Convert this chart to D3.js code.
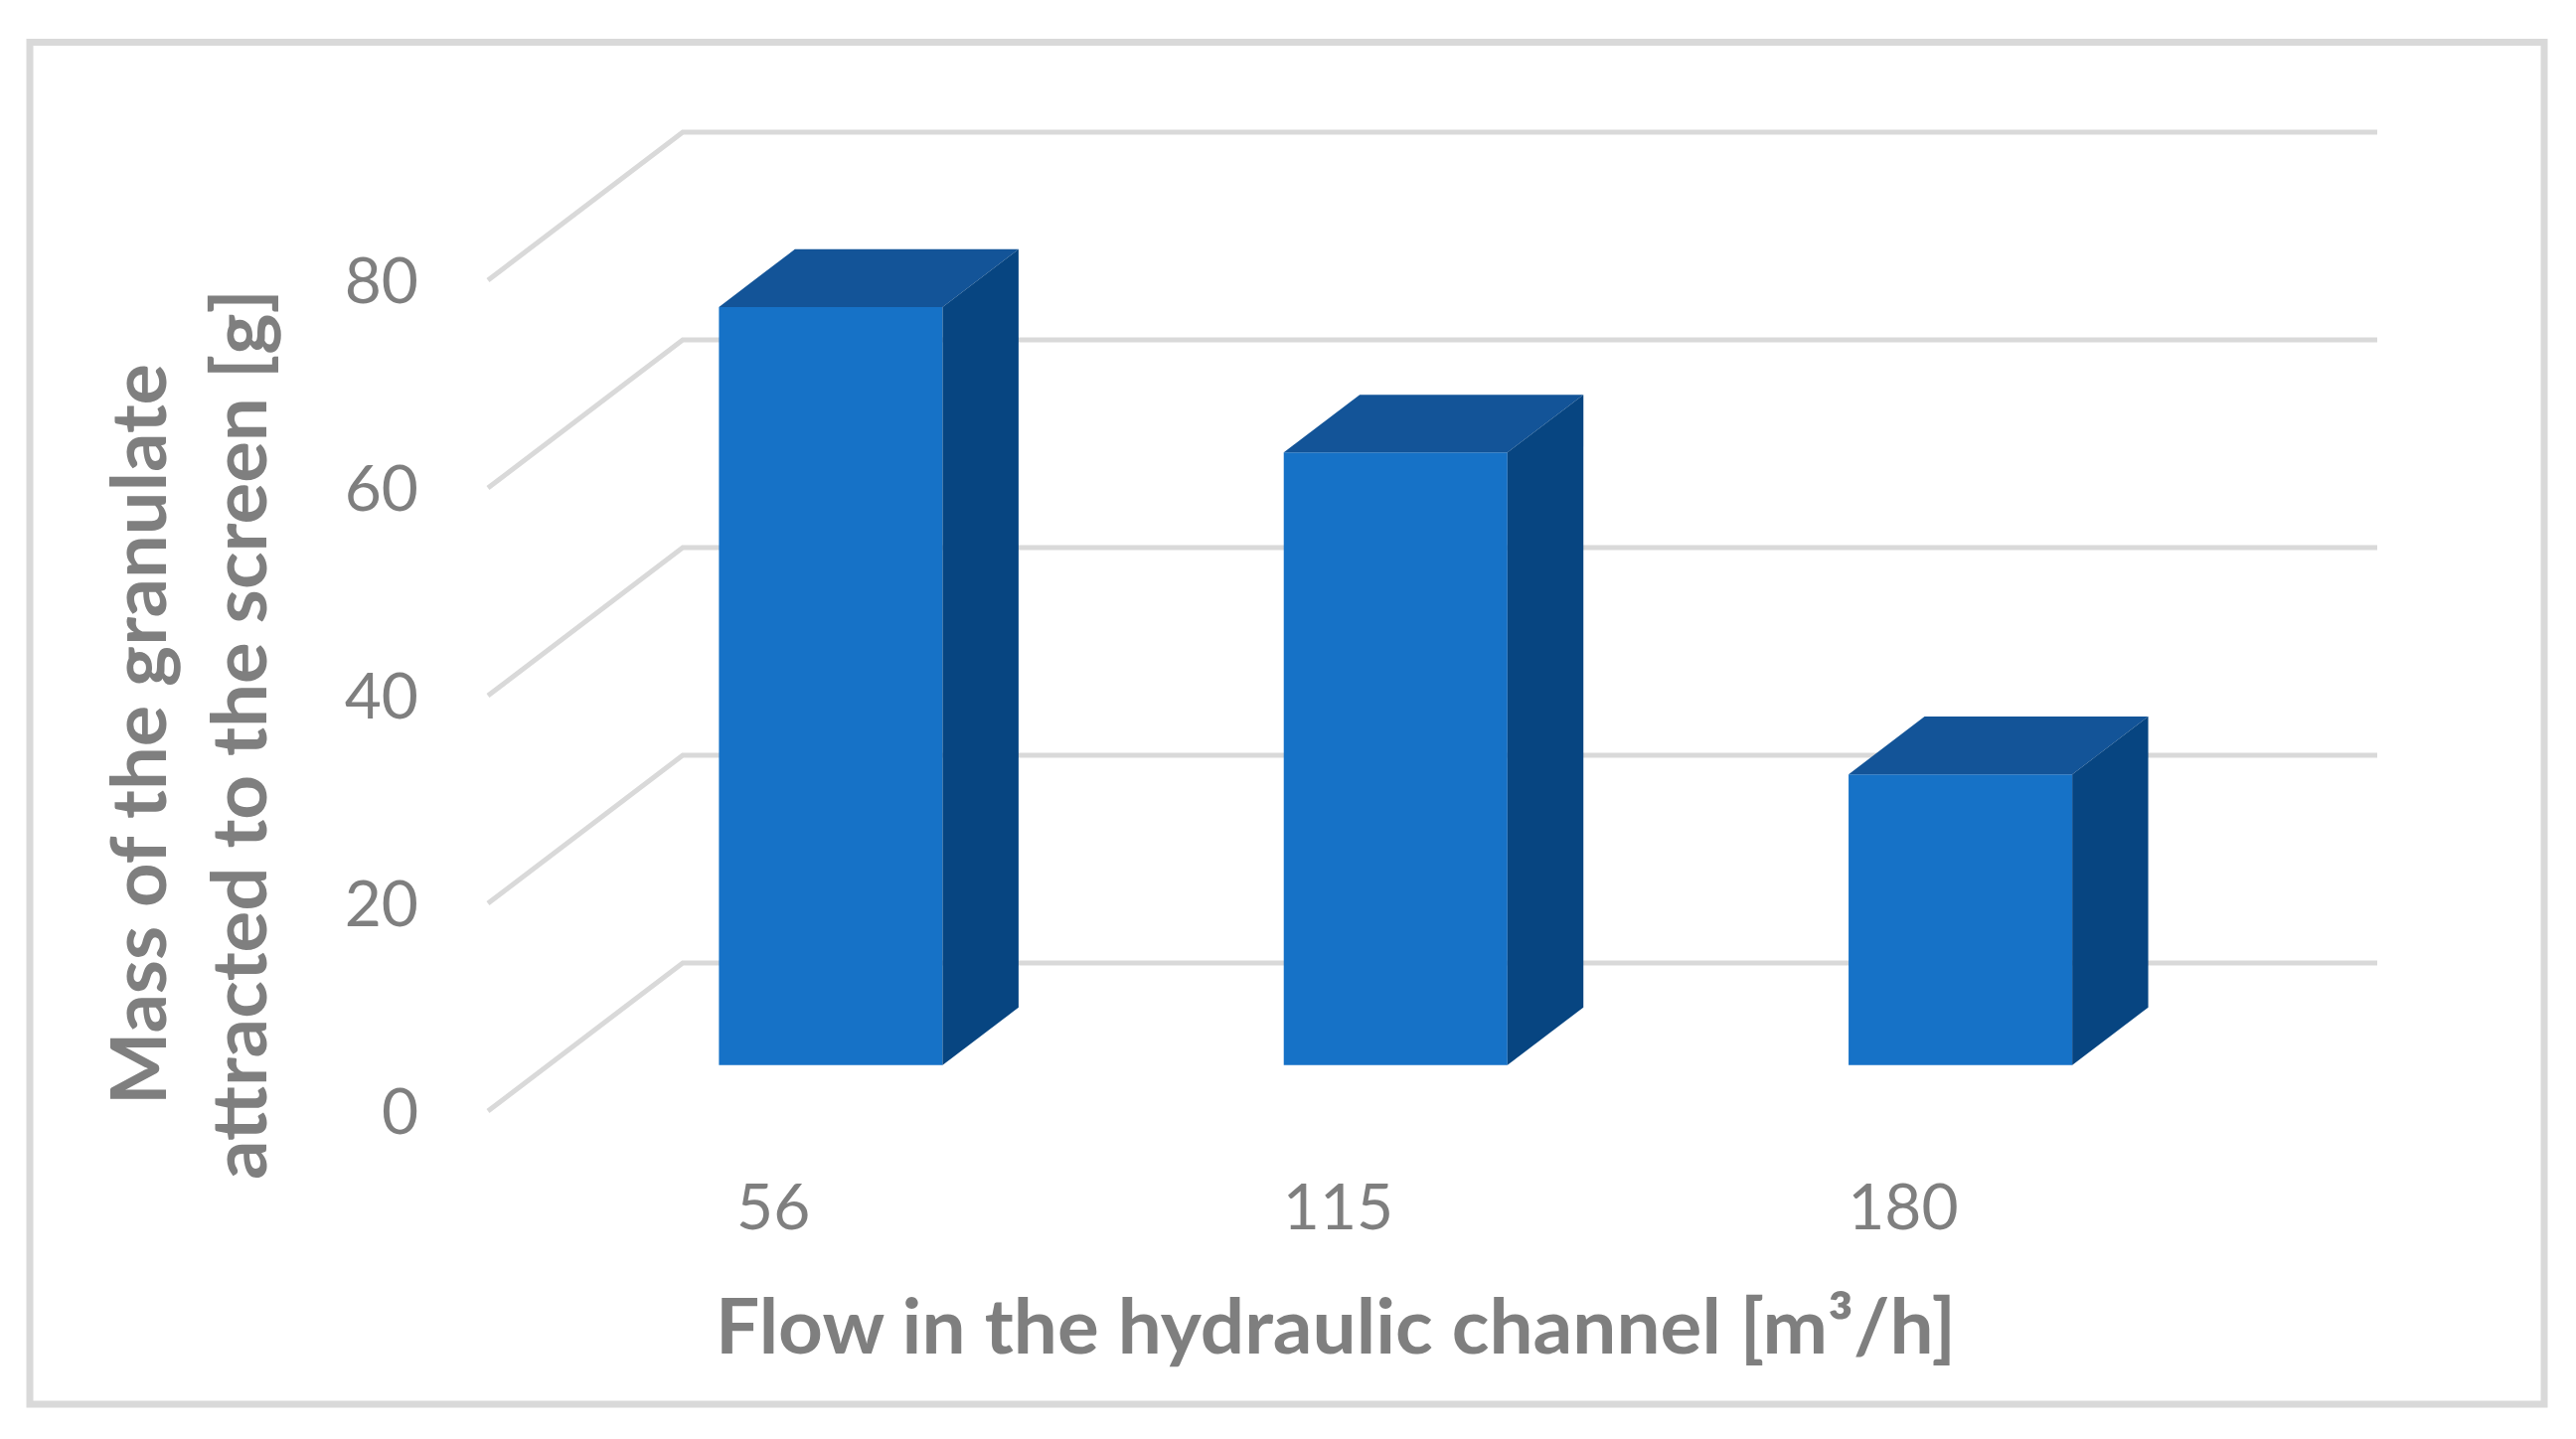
<!DOCTYPE html>
<html>
<head>
<meta charset="utf-8">
<script src="https://cdn.jsdelivr.net/npm/d3@7"></script>
<style>
  body { margin: 0; background: #fff; }
  text { font-family: Lato, "Noto Sans", sans-serif; fill: #7f7f7f; }
</style>
</head>
<body>
<div id="chart"></div>
<script>
// values
const categories = ["56", "115", "180"];
const values = [73, 59, 28];
const yTicks = [0, 20, 40, 60, 80];
const xTitle = "Flow in the hydraulic channel [m³/h]";
const yTitle = ["Mass of the granulate", "attracted to the screen [g]"];

const pageWidth = 2592;
const pageHeight = 1448;

// oblique 3D look: shift of the back wall
const depthX = 196;
const depthY = 149;
const barZ0 = 0.31, barZ1 = 0.70;
const barRatio = 0.396;

const svg = d3.select("#chart")
    .append("svg")
    .attr("width", pageWidth)
    .attr("height", pageHeight);

svg.append("rect")
    .attr("x", 0).attr("y", 0)
    .attr("width", pageWidth).attr("height", pageHeight)
    .attr("fill", "#fff");

// outer frame
svg.append("rect")
    .attr("x", 30).attr("y", 42.5)
    .attr("width", 2530).attr("height", 1370.5)
    .attr("fill", "none")
    .attr("stroke", "#d9d9d9")
    .attr("stroke-width", 7);

const xBand = d3.scaleBand()
    .domain(categories)
    .range([491, 2392 - depthX])
    .padding(0);

const yScale = d3.scaleLinear()
    .domain([0, 80])
    .range([1118, 282]);

// project a point at depth z (0 = front, 1 = back wall)
const px = (x, z) => x + z * depthX;
const py = (y, z) => y - z * depthY;

// gridlines: side wall diagonal + back wall line
const grid = svg.append("g").attr("class", "grid")
    .attr("stroke", "#d9d9d9")
    .attr("stroke-width", 5)
    .attr("fill", "none");

grid.selectAll("path")
    .data(yTicks)
    .enter().append("path")
    .attr("d", d => {
        const x0 = xBand.range()[0];
        const x1 = xBand.range()[1];
        const y0 = yScale(d);
        return "M" + px(x0, 0) + "," + py(y0, 0)
            + "L" + px(x0, 1) + "," + py(y0, 1)
            + "L" + px(x1, 1) + "," + py(y0, 1);
    });

// bars
const data = categories.map((c, i) => ({ cat: c, value: values[i] }));
const bars = svg.append("g").attr("class", "bars")
    .selectAll("g")
    .data(data)
    .enter().append("g");

function barGeom(d) {
    const w = xBand.bandwidth() * barRatio;
    const cx = xBand(d.cat) + xBand.bandwidth() / 2;
    return {
        l: cx - w / 2, r: cx + w / 2,
        b: yScale(0), t: yScale(d.value)
    };
}

// front face
bars.append("path")
    .attr("fill", "#1672c7")
    .attr("d", d => {
        const g = barGeom(d);
        return "M" + px(g.l, barZ0) + "," + py(g.b, barZ0)
            + "L" + px(g.l, barZ0) + "," + py(g.t, barZ0)
            + "L" + px(g.r, barZ0) + "," + py(g.t, barZ0)
            + "L" + px(g.r, barZ0) + "," + py(g.b, barZ0) + "Z";
    });

// top face
bars.append("path")
    .attr("fill", "#135498")
    .attr("d", d => {
        const g = barGeom(d);
        return "M" + px(g.l, barZ0) + "," + py(g.t, barZ0)
            + "L" + px(g.l, barZ1) + "," + py(g.t, barZ1)
            + "L" + px(g.r, barZ1) + "," + py(g.t, barZ1)
            + "L" + px(g.r, barZ0) + "," + py(g.t, barZ0) + "Z";
    });

// side face
bars.append("path")
    .attr("fill", "#074581")
    .attr("d", d => {
        const g = barGeom(d);
        return "M" + px(g.r, barZ0) + "," + py(g.b, barZ0)
            + "L" + px(g.r, barZ0) + "," + py(g.t, barZ0)
            + "L" + px(g.r, barZ1) + "," + py(g.t, barZ1)
            + "L" + px(g.r, barZ1) + "," + py(g.b, barZ1) + "Z";
    });

// y tick labels
svg.append("g").attr("class", "y-ticks")
    .selectAll("text")
    .data(yTicks)
    .enter().append("text")
    .attr("x", 421)
    .attr("y", d => yScale(d))
    .attr("dy", "0.36em")
    .attr("text-anchor", "end")
    .attr("font-size", 64)
    .text(d => d);

// x tick labels
svg.append("g").attr("class", "x-ticks")
    .selectAll("text")
    .data(categories)
    .enter().append("text")
    .attr("x", d => xBand(d) + xBand.bandwidth() / 2 + 3)
    .attr("y", 1237)
    .attr("text-anchor", "middle")
    .attr("font-size", 64)
    .text(d => d);

// x axis title
svg.append("text")
    .attr("class", "axis-label")
    .attr("x", 1344)
    .attr("y", 1362)
    .attr("text-anchor", "middle")
    .attr("font-size", 76)
    .attr("font-weight", "bold")
    .attr("textLength", 1248)
    .attr("lengthAdjust", "spacingAndGlyphs")
    .text(xTitle);

// y axis title, two lines
const yLineX = [167, 268];
const yLineLen = [746, 896];
svg.append("g").attr("class", "axis-label")
    .selectAll("text")
    .data(yTitle)
    .enter().append("text")
    .attr("transform", (d, i) => "translate(" + yLineX[i] + ",739) rotate(-90)")
    .attr("text-anchor", "middle")
    .attr("font-size", 76)
    .attr("font-weight", "bold")
    .attr("textLength", (d, i) => yLineLen[i])
    .attr("lengthAdjust", "spacingAndGlyphs")
    .text(d => d);
</script>
</body>
</html>
